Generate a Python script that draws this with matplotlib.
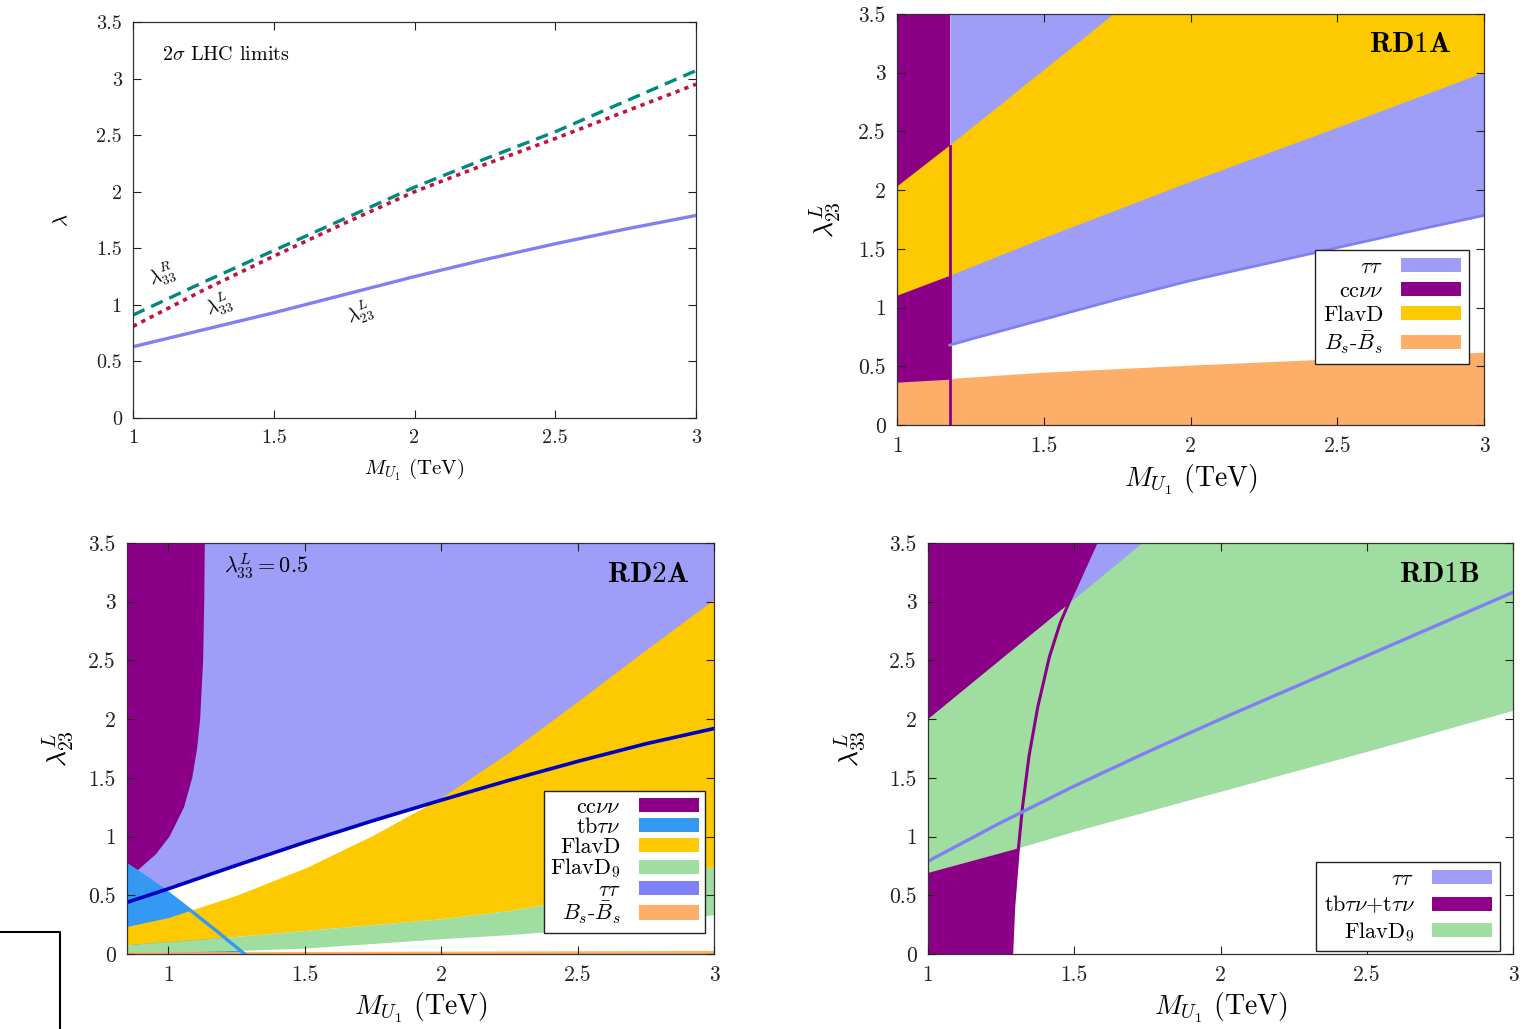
import numpy as np
import matplotlib
matplotlib.use('Agg')
import matplotlib.pyplot as plt
from matplotlib.patches import Patch
from matplotlib.lines import Line2D

plt.rcParams['mathtext.fontset'] = 'cm'
plt.rcParams['font.family'] = 'serif'
plt.rcParams['font.serif'] = ['cmr10']
plt.rcParams['axes.formatter.use_mathtext'] = True
plt.rcParams['axes.unicode_minus'] = False

# colours
c_tau = '#9e9ef8'
c_tau_line = '#7f80f2'
c_tau_leg = '#8080f8'
c_ccvv = '#8b0087'
c_flavd = '#fdc900'
c_flavd9 = '#9fdea0'
c_bs = '#fdae68'
c_tb = '#3399f5'
c_navy = '#0000c0'

# ---- panel 1: 2 sigma LHC limits
m1 = [1.0, 1.25, 1.5, 1.75, 2.0, 2.25, 2.5, 2.75, 3.0]
lamR33 = [0.91, 1.20, 1.48, 1.76, 2.04, 2.29, 2.53, 2.80, 3.07]
lamL33 = [0.81, 1.13, 1.43, 1.72, 2.00, 2.24, 2.47, 2.71, 2.95]
lamL23 = [0.63, 0.78, 0.93, 1.09, 1.25, 1.40, 1.54, 1.67, 1.79]

# ---- panel 2: RD1A
ccvv_edge2 = 1.18
flavd_m2 = [1.0, 1.18, 1.5, 2.0, 2.5, 3.0]
flavd_lo2 = [1.10, 1.27, 1.59, 2.07, 2.53, 3.00]
flavd_hm2 = [1.0, 1.18, 1.74, 3.0]
flavd_hi2 = [2.03, 2.38, 3.5, 3.5]
tau_m2 = [1.18, 1.25, 1.5, 1.75, 2.0, 2.25, 2.5, 2.75, 3.0]
tau_lo2 = [0.68, 0.73, 0.90, 1.07, 1.23, 1.37, 1.51, 1.65, 1.785]
bs_m2 = [1.0, 1.18, 1.2, 1.5, 2.0, 2.5, 3.0]
bs_hi2 = [0.365, 0.39, 0.40, 0.45, 0.51, 0.565, 0.62]

# ---- panel 3: RD2A
xmin3 = 0.849
tau_m3 = [0.849, 1.0, 1.25, 1.5, 1.75, 2.0, 2.25, 2.5, 2.75, 3.0]
tau_y3 = [0.44, 0.555, 0.755, 0.95, 1.135, 1.31, 1.48, 1.64, 1.79, 1.92]
ccvv_y3 = [0.715, 0.85, 1.0, 1.25, 1.5, 1.75, 2.0, 2.5, 3.0, 3.5]
ccvv_x3 = [0.889, 0.955, 1.005, 1.058, 1.088, 1.106, 1.117, 1.128, 1.132, 1.134]
tb_m3 = [0.849, 0.985, 1.08, 1.175, 1.28]
tb_y3 = [0.76, 0.545, 0.375, 0.20, 0.0]
flav_m3 = [0.849, 1.0, 1.25, 1.5, 1.75, 2.0, 2.25, 2.5, 2.75, 3.0]
flavd_hi3 = [0.235, 0.31, 0.50, 0.73, 1.01, 1.33, 1.72, 2.15, 2.59, 3.02]
flavd_lo3 = [0.08, 0.105, 0.15, 0.20, 0.25, 0.30, 0.37, 0.47, 0.60, 0.745]
flavd9_lo3 = [0.0, 0.015, 0.03, 0.05, 0.09, 0.13, 0.165, 0.21, 0.265, 0.335]
bs_m3 = [0.849, 2.0, 3.0]
bs_hi3 = [0.018, 0.024, 0.03]

# ---- panel 4: RD1B
flavd9_lm4 = [1.0, 1.31, 1.5, 2.0, 2.5, 3.0]
flavd9_lo4 = [0.69, 0.90, 1.04, 1.38, 1.72, 2.07]
flavd9_hm4 = [1.0, 1.5, 1.734, 3.0]
flavd9_hi4 = [2.0, 3.02, 3.5, 3.5]
tb_y4 = [0.0, 0.4, 0.87, 1.25, 1.68, 2.1, 2.53, 2.82, 3.01, 3.5]
tb_x4 = [1.286, 1.293, 1.308, 1.323, 1.345, 1.375, 1.415, 1.452, 1.485, 1.574]
tau_m4 = [1.0, 1.25, 1.5, 1.75, 2.0, 2.25, 2.5, 2.75, 3.0]
tau_y4 = [0.79, 1.12, 1.43, 1.72, 2.0, 2.27, 2.54, 2.81, 3.08]

xticks = [1, 1.5, 2, 2.5, 3]
xticklabels = ['1', '1.5', '2', '2.5', '3']
yticks = [0, 0.5, 1, 1.5, 2, 2.5, 3, 3.5]
yticklabels = ['0', '0.5', '1', '1.5', '2', '2.5', '3', '3.5']

W, H = 1536, 1029
fig = plt.figure(figsize=(W / 100, H / 100), dpi=100)


def make_axes(l, r, t, b):
    return fig.add_axes([l / W, 1 - b / H, (r - l) / W, (b - t) / H])


def style(ax, xmin, fs, xlab, ylab, fs_lab, xoff, yoff):
    ax.set_xlim(xmin, 3)
    ax.set_ylim(0, 3.5)
    ax.set_xticks(xticks)
    ax.set_xticklabels(xticklabels)
    ax.set_yticks(yticks)
    ax.set_yticklabels(yticklabels)
    ax.tick_params(direction='in', length=6, width=0.8, top=True, right=True,
                   labelsize=fs, pad=8, colors='#222222')
    for s in ax.spines.values():
        s.set_linewidth(0.9)
        s.set_color('#333333')
    ax.set_xlabel(xlab, fontsize=fs_lab)
    ax.set_ylabel(ylab, fontsize=fs_lab)
    bb = ax.get_position()
    ax.xaxis.set_label_coords(0.5, -xoff / (bb.height * H))
    ax.xaxis.label.set_va('center')
    ax.yaxis.set_label_coords(-yoff / (bb.width * W), 0.5)
    ax.yaxis.label.set_va('center')
    ax.set_axisbelow(False)


def legend(ax, labels, colors, anchor, spacing, pad):
    handles = [Patch(facecolor=c, edgecolor='none') for c in colors]
    lg = ax.legend(handles, labels, loc='upper right', bbox_to_anchor=anchor,
                   borderaxespad=0, markerfirst=False, fancybox=False,
                   framealpha=1, edgecolor='#222222', fontsize=16,
                   handlelength=2.7, handleheight=0.6, handletextpad=0.8,
                   labelspacing=spacing, borderpad=pad)
    lg.get_frame().set_linewidth(1.0)
    lg.set_zorder(20)


xlab = r'$M_{U_1}$ (TeV)'

# ---------------- panel 1
ax1 = make_axes(133, 696, 22, 418)
ax1.plot(m1, lamL23, color='#8080f2', lw=2.4)
ax1.plot(m1, lamL33, color='#c0143c', lw=2.6, linestyle=(0, (1.2, 1.4)))
ax1.plot(m1, lamR33, color='#00897f', lw=2.4, linestyle=(0, (3.8, 2.2)))
ax1.text(0.0515, 0.917, r'$2\sigma$ LHC limits', transform=ax1.transAxes,
         fontsize=14.5, va='center', ha='left')
ax1.text(1.103, 1.264, r'$\lambda^R_{33}$', fontsize=14, rotation=20, ha='center', va='center')
ax1.text(1.305, 0.999, r'$\lambda^L_{33}$', fontsize=14, rotation=20, ha='center', va='center')
ax1.text(1.806, 0.928, r'$\lambda^L_{23}$', fontsize=14, rotation=20, ha='center', va='center')
style(ax1, 1.0, 14.5, xlab, r'$\lambda$', 15, 52, 71)

# ---------------- panel 2
ax2 = make_axes(897, 1484, 14, 425)
ax2.axvspan(1.0, ccvv_edge2, color=c_ccvv, lw=0)
ax2.fill_between(tau_m2, tau_lo2, 3.5, color=c_tau, lw=0)
ax2.fill(np.r_[flavd_m2, flavd_hm2[::-1]], np.r_[flavd_lo2, flavd_hi2[::-1]],
         color=c_flavd, lw=0)
ax2.fill_between(bs_m2, 0, bs_hi2, color=c_bs, lw=0)
ax2.plot([ccvv_edge2, ccvv_edge2], [0, flavd_hi2[1]], color=c_ccvv, lw=2)
ax2.plot(tau_m2, tau_lo2, color=c_tau_line, lw=2)
ax2.text(0.874, 0.925, r'$\mathbf{RD1A}$', transform=ax2.transAxes,
         fontsize=21, ha='center', va='center')
legend(ax2, [r'$\tau\tau$', r'$\mathrm{cc}\nu\nu$', 'FlavD', r'$B_s$-$\bar{B}_s$'],
       [c_tau, c_ccvv, c_flavd, c_bs], (0.974, 0.426), 0.2, 0.35)
style(ax2, 1.0, 15.5, xlab, r'$\lambda^L_{23}$', 20, 55, 72)

# ---------------- panel 3
ax3 = make_axes(127, 714, 543, 954)
ax3.fill_between(tau_m3, tau_y3, 3.5, color=c_tau, lw=0)
ax3.fill(np.r_[ccvv_x3, xmin3, xmin3], np.r_[ccvv_y3, 3.5, tb_y3[0]],
         color=c_ccvv, lw=0)
ax3.fill(np.r_[tb_m3, xmin3], np.r_[tb_y3, 0], color=c_tb, lw=0)
ax3.fill_between(flav_m3, flavd_lo3, flavd_hi3, color=c_flavd, lw=0)
ax3.fill_between(flav_m3, flavd9_lo3, flavd_lo3, color=c_flavd9, lw=0)
ax3.fill_between(bs_m3, 0, bs_hi3, color=c_bs, lw=0)
ax3.plot(tb_m3, tb_y3, color=c_tb, lw=2.4)
ax3.plot(tau_m3, tau_y3, color=c_navy, lw=2.6)
ax3.text(0.237, 0.944, r'$\lambda^L_{33} = 0.5$', transform=ax3.transAxes,
         fontsize=16, ha='center', va='center')
ax3.text(0.887, 0.922, r'$\mathbf{RD2A}$', transform=ax3.transAxes,
         fontsize=21, ha='center', va='center')
legend(ax3, [r'$\mathrm{cc}\nu\nu$', r'$\mathrm{tb}\tau\nu$', 'FlavD',
             r'$\mathrm{FlavD}_9$', r'$\tau\tau$', r'$B_s$-$\bar{B}_s$'],
       [c_ccvv, c_tb, c_flavd, c_flavd9, c_tau_leg, c_bs], (0.985, 0.397), 0.0, 0.3)
style(ax3, xmin3, 15.5, xlab, r'$\lambda^L_{23}$', 20, 54, 69)

# ---------------- panel 4
ax4 = make_axes(928, 1513, 543, 954)
ax4.fill_between(tau_m4, tau_y4, 3.5, color=c_tau, lw=0)
ax4.fill(np.r_[tb_x4, 1.0, 1.0], np.r_[tb_y4, 3.5, 0.0], color=c_ccvv, lw=0)
ax4.fill(np.r_[flavd9_hm4, flavd9_lm4[::-1]], np.r_[flavd9_hi4, flavd9_lo4[::-1]],
         color=c_flavd9, lw=0)
ax4.plot(tb_x4, tb_y4, color=c_ccvv, lw=2.2)
ax4.plot(tau_m4, tau_y4, color=c_tau_line, lw=2.4)
ax4.text(0.874, 0.922, r'$\mathbf{RD1B}$', transform=ax4.transAxes,
         fontsize=21, ha='center', va='center')
legend(ax4, [r'$\tau\tau$', r'$\mathrm{tb}\tau\nu{+}\mathrm{t}\tau\nu$', r'$\mathrm{FlavD}_9$'],
       [c_tau, c_ccvv, c_flavd9], (0.978, 0.224), 0.2, 0.35)
style(ax4, 1.0, 15.5, xlab, r'$\lambda^L_{33}$', 20, 54, 78)

# stray frame in the lower-left corner
fig.add_artist(Line2D([0, 60 / W, 60 / W], [1 - 932 / H, 1 - 932 / H, 0],
                      transform=fig.transFigure, color='black', lw=1.5))

fig.savefig('out.png', dpi=100)
